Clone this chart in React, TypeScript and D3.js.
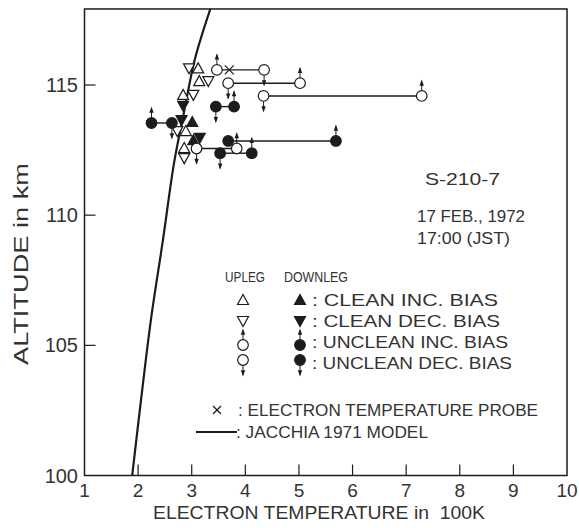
import React from 'react';
import * as d3 from 'd3';

// ---------- data ----------
const xTicks = [1, 2, 3, 4, 5, 6, 7, 8, 9, 10];
const yTicks = [100, 105, 110, 115];

// Jacchia 1971 model profile: altitude (km) vs temperature (100 K)
const modelAlt = [100, 103, 106, 109, 112, 114, 116, 118];
const modelTemp = [1.89, 2.06, 2.24, 2.46, 2.67, 2.86, 3.06, 3.36];

// clean probe (triangles): [temperature (100K), altitude (km)]
const uplegCleanInc: [number, number][] = [[3.12, 115.64], [3.14, 115.15], [2.84, 114.62], [2.89, 113.23], [2.86, 112.58]];
const uplegCleanDec: [number, number][] = [[2.95, 115.64], [3.31, 115.15], [3.03, 114.62], [2.73, 113.23], [2.86, 112.19]];
const downlegCleanInc: [number, number][] = [[3.01, 113.58], [3.03, 112.88]];
const downlegCleanDec: [number, number][] = [[2.84, 114.2], [2.81, 113.65], [3.15, 112.97]];

// unclean probe (circles): pairs at one altitude, inc-bias and dec-bias temperatures
const uplegUnclean = [
  { alt: 115.58, inc: 3.47, dec: 4.35 },
  { alt: 115.07, inc: 5.02, dec: 3.68 },
  { alt: 114.58, inc: 7.29, dec: 4.34 },
  { alt: 112.56, inc: 3.84, dec: 3.09 },
];
const downlegUnclean = [
  { alt: 114.17, inc: 3.79, dec: 3.45 },
  { alt: 113.54, inc: 2.25, dec: 2.63 },
  { alt: 112.85, inc: 5.69, dec: 3.68 },
  { alt: 112.38, inc: 4.12, dec: 3.53 },
];

// electron temperature probe
const etpPoints: [number, number][] = [[3.70, 115.58]];

const legendRows = [': CLEAN INC. BIAS', ': CLEAN DEC. BIAS', ': UNCLEAN INC. BIAS', ': UNCLEAN DEC. BIAS'];
const legendRowLen = [186, 188, 196, 200];

// ---------- drawing ----------
const W = 579, H = 528;
const INK = '#1c1c1c';
const TXT = '#333';
const FONT = '"Liberation Sans", Arial, sans-serif';

const x = d3.scaleLinear().domain([1, 10]).range([84.5, 567]);
const y = d3.scaleLinear().domain([100, 115]).range([475.5, 85]);
const yTopVal = 117.92;

const R = 5.3;

function Tri({ cx, cy, up, filled }: { cx: number; cy: number; up: boolean; filled: boolean }) {
  const h = 5;
  const pts = up
    ? [[cx, cy - h - 0.5], [cx - 5.5, cy + h - 0.5], [cx + 5.5, cy + h - 0.5]]
    : [[cx, cy + h + 0.5], [cx - 5.5, cy - h + 0.5], [cx + 5.5, cy - h + 0.5]];
  return (
    <polygon
      points={pts.map((p) => p.join(',')).join(' ')}
      fill={filled ? INK : '#fff'}
      stroke={INK}
      strokeWidth={1.2}
    />
  );
}

function Arrow({ cx, cy, dir }: { cx: number; cy: number; dir: 'up' | 'down' }) {
  const s = dir === 'up' ? -1 : 1;
  const y0 = cy + s * R;
  const y1 = cy + s * (R + 10);
  return (
    <g>
      <line x1={cx} y1={y0} x2={cx} y2={y1} stroke={INK} strokeWidth={1} />
      <polygon
        points={`${cx},${y1 + s * 1} ${cx - 2.2},${y1 - s * 5} ${cx + 2.2},${y1 - s * 5}`}
        fill={INK}
      />
    </g>
  );
}

function Circ({ cx, cy, filled, dir }: { cx: number; cy: number; filled: boolean; dir?: 'up' | 'down' }) {
  return (
    <g>
      {dir && <Arrow cx={cx} cy={cy} dir={dir} />}
      <circle cx={cx} cy={cy} r={R} fill={filled ? INK : '#fff'} stroke={INK} strokeWidth={1.2} />
    </g>
  );
}

export default function App() {
  const modelLine = d3
    .line<number>()
    .x((_, i) => x(modelTemp[i]))
    .y((a) => y(a))
    .curve(d3.curveCatmullRom)(modelAlt) as string;

  const left = x(1), right = x(10), bottom = y(100), top = y(yTopVal);

  const pairs = [
    ...uplegUnclean.map((d) => ({ ...d, filled: false })),
    ...downlegUnclean.map((d) => ({ ...d, filled: true })),
  ];

  const legendY = [300, 321, 342, 363];
  const upX = 243, downX = 300;

  return (
    <svg width={W} height={H} style={{ position: 'absolute', left: 0, top: 0, background: '#fff' }} fontFamily={FONT}>
      <defs>
        <clipPath id="plotClip">
          <rect x={left} y={top} width={right - left} height={bottom - top} />
        </clipPath>
      </defs>

      {/* frame */}
      <rect x={left} y={top} width={right - left} height={bottom - top} fill="none" stroke={INK} strokeWidth={1.5} />

      {/* x ticks */}
      {xTicks.map((t) => (
        <g key={'xt' + t}>
          {t > 1 && t < 10 && <line x1={x(t)} x2={x(t)} y1={bottom} y2={bottom - 11} stroke={INK} strokeWidth={1.2} />}
          <text x={x(t)} y={497} textAnchor="middle" fontSize={19} fill={TXT}>{t}</text>
        </g>
      ))}
      {/* y ticks */}
      {yTicks.map((t) => (
        <g key={'yt' + t}>
          {t > 100 && <line x1={left} x2={left + 11} y1={y(t)} y2={y(t)} stroke={INK} strokeWidth={1.2} />}
          <text x={78} y={y(t) + 7} textAnchor="end" fontSize={20} fill={TXT}>{t}</text>
        </g>
      ))}

      {/* axis titles */}
      <text x={153} y={519} fontSize={18} fill={TXT} style={{ whiteSpace: 'pre' }} textLength={332} lengthAdjust="spacingAndGlyphs">
        {'ELECTRON TEMPERATURE in  100K'}
      </text>
      <text transform="translate(28,264) rotate(-90)" textAnchor="middle" fontSize={20} fill={TXT} textLength={202} lengthAdjust="spacingAndGlyphs">
        ALTITUDE in km
      </text>

      {/* model curve */}
      <path d={modelLine} fill="none" stroke={INK} strokeWidth={2.2} clipPath="url(#plotClip)" />

      {/* connecting lines for unclean pairs */}
      {pairs.map((p, i) => (
        <line key={'pl' + i} x1={x(p.inc)} x2={x(p.dec)} y1={y(p.alt)} y2={y(p.alt)} stroke={INK} strokeWidth={1.4} />
      ))}

      {/* ETP crosses */}
      {etpPoints.map(([t, a], i) => (
        <g key={'x' + i} stroke={INK} strokeWidth={1.3}>
          <line x1={x(t) - 4.5} x2={x(t) + 4.5} y1={y(a) - 4.5} y2={y(a) + 4.5} />
          <line x1={x(t) - 4.5} x2={x(t) + 4.5} y1={y(a) + 4.5} y2={y(a) - 4.5} />
        </g>
      ))}

      {/* triangles */}
      {uplegCleanInc.map(([t, a], i) => <Tri key={'ui' + i} cx={x(t)} cy={y(a)} up filled={false} />)}
      {uplegCleanDec.map(([t, a], i) => <Tri key={'ud' + i} cx={x(t)} cy={y(a)} up={false} filled={false} />)}
      {downlegCleanInc.map(([t, a], i) => <Tri key={'di' + i} cx={x(t)} cy={y(a)} up filled />)}
      {downlegCleanDec.map(([t, a], i) => <Tri key={'dd' + i} cx={x(t)} cy={y(a)} up={false} filled />)}

      {/* circles */}
      {pairs.map((p, i) => (
        <g key={'pc' + i}>
          <Circ cx={x(p.inc)} cy={y(p.alt)} filled={p.filled} dir="up" />
          <Circ cx={x(p.dec)} cy={y(p.alt)} filled={p.filled} dir={p.filled && p.dec === 3.68 ? undefined : 'down'} />
        </g>
      ))}

      {/* annotations */}
      <text x={425} y={185} fontSize={17} fill={TXT} textLength={75} lengthAdjust="spacingAndGlyphs">S-210-7</text>
      <text x={417} y={222} fontSize={17} fill={TXT} textLength={108} lengthAdjust="spacingAndGlyphs">17 FEB., 1972</text>
      <text x={417} y={244} fontSize={17} fill={TXT} textLength={93} lengthAdjust="spacingAndGlyphs">17:00 (JST)</text>

      {/* symbol legend */}
      <text x={225} y={282} fontSize={14} fill={TXT} textLength={40} lengthAdjust="spacingAndGlyphs">UPLEG</text>
      <text x={284} y={282} fontSize={14} fill={TXT} textLength={64} lengthAdjust="spacingAndGlyphs">DOWNLEG</text>
      <Tri cx={upX} cy={legendY[0]} up filled={false} />
      <Tri cx={downX} cy={legendY[0]} up filled />
      <Tri cx={upX} cy={legendY[1]} up={false} filled={false} />
      <Tri cx={downX} cy={legendY[1]} up={false} filled />
      <Circ cx={upX} cy={legendY[2] + 3} filled={false} dir="up" />
      <Circ cx={downX} cy={legendY[2] + 3} filled dir="up" />
      <Circ cx={upX} cy={legendY[3] - 3} filled={false} dir="down" />
      <Circ cx={downX} cy={legendY[3] - 3} filled dir="down" />
      {legendRows.map((s, i) => (
        <text key={'lr' + i} x={312} y={legendY[i] + 6} fontSize={17} fill={TXT} textLength={legendRowLen[i]} lengthAdjust="spacingAndGlyphs">{s}</text>
      ))}

      {/* line legend */}
      <g stroke={INK} strokeWidth={1.3}>
        <line x1={213} x2={221} y1={406} y2={414} />
        <line x1={213} x2={221} y1={414} y2={406} />
      </g>
      <text x={238} y={416} fontSize={17} fill={TXT} textLength={300} lengthAdjust="spacingAndGlyphs">: ELECTRON TEMPERATURE PROBE</text>
      <line x1={196} x2={237} y1={432} y2={432} stroke={INK} strokeWidth={2.2} />
      <text x={236} y={438} fontSize={17} fill={TXT} textLength={192} lengthAdjust="spacingAndGlyphs">: JACCHIA 1971 MODEL</text>
    </svg>
  );
}
